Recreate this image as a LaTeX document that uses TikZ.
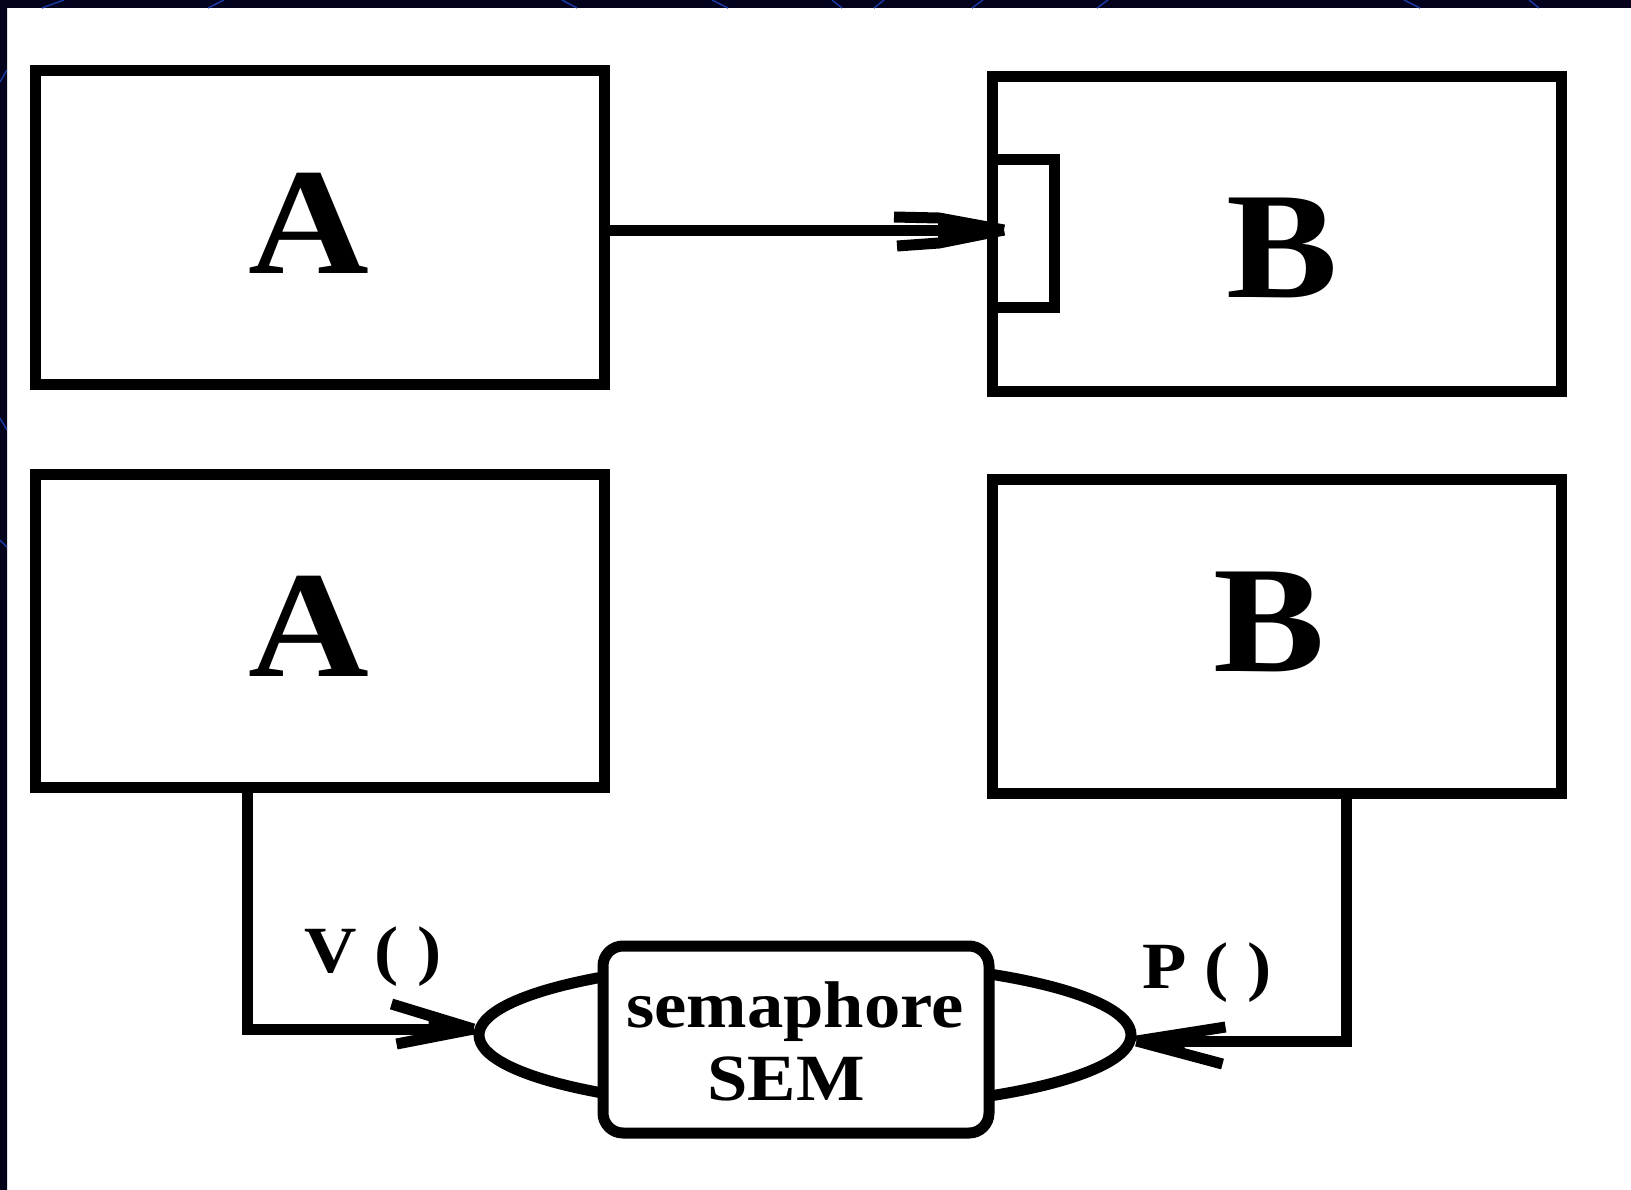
\documentclass[tikz,border=0pt]{standalone}
\usepackage{fontspec}
\setmainfont{Liberation Serif}
\newfontfamily\lblfont{Liberation Serif}[FakeStretch=1.1]
\usetikzlibrary{shapes.geometric}
\definecolor{navytop}{RGB}{3,3,30}
\definecolor{navymid}{RGB}{0,14,100}
\definecolor{navybot}{RGB}{2,2,24}
\definecolor{bandline}{RGB}{25,60,170}
\begin{document}
\begin{tikzpicture}[x=0.5pt,y=-0.5pt,line join=miter]
\tikzset{
  box/.style={draw, line width=5.5pt, minimum width=284.5pt, minimum height=157pt, inner sep=0pt},
  big/.style={font=\fontsize{76}{76}\selectfont\lblfont\bfseries, anchor=base, inner sep=0pt},
  small/.style={font=\fontsize{33}{33}\selectfont\lblfont\bfseries, anchor=base, inner sep=0pt},
  conn/.style={line width=5.5pt},
  bandstroke/.style={draw=bandline, line width=0.7pt},
}
\useasboundingbox (0,0) rectangle (1631,1189);
\fill[white] (0,0) rectangle (1631,1189);
% frame bands
\fill[navytop] (0,0) rectangle (1631,8);
\shade[top color=navytop, middle color=navymid, bottom color=navybot] (0,0) rectangle (7,1189);
\begin{scope}
\clip (0,0) rectangle (1631,8);
\draw[bandstroke] (42,8) -- (64,0);
\draw[bandstroke] (208,8) -- (224,0);
\draw[bandstroke] (562,0) -- (577,8);
\draw[bandstroke] (712,0) -- (728,8);
\draw[bandstroke] (832,0) -- (842,8);
\draw[bandstroke] (874,8) -- (884,0);
\draw[bandstroke] (972,8) -- (983,0);
\draw[bandstroke] (1097,8) -- (1108,0);
\draw[bandstroke] (1404,0) -- (1420,8);
\draw[bandstroke] (1529,0) -- (1539,8);
\end{scope}
\begin{scope}
\clip (0,0) rectangle (7,1189);
\draw[bandstroke] (0,82) -- (7,70);
\draw[bandstroke] (0,418) -- (7,430);
\draw[bandstroke] (0,540) -- (7,547);
\end{scope}
% boxes
\node[box] (A1) at (319.5,227) {};
\node[box, minimum height=157.5pt] (B1) at (1276.5,233.5) {};
\node[box, minimum height=156.5pt] (A2) at (319.5,630.5) {};
\node[box] (B2) at (1276.5,636) {};
% big letters
\node[big] (tA1) at (309,273) {A};
\node[big] (tB1) at (1282,297) {B};
\node[big] (tA2) at (309,676) {A};
\node[big] (tB2) at (1269,671) {B};
% port in B1
\draw[conn] (992,159) -| (1054,307) -- (992,307);
% semaphore
\node[draw, line width=5.5pt, ellipse, minimum width=326pt, minimum height=74pt, inner sep=0pt] (semell) at (805,1035) {};
\node[draw, line width=5.5pt, fill=white, rounded corners=10pt, minimum width=193pt, minimum height=93.5pt, inner sep=0pt] (sem) at (796,1039.5) {};
\node[small] (tsem1) at (795,1027) {semaphore};
\node[small] (tsem2) at (786,1100) {SEM};
% labels
\node[small] (tV) at (373,972) {V ( )};
\node[small] (tP) at (1207,988) {P ( )};
% top arrow
\coordinate (t1) at (1004,230);
\draw[conn] (A1.east |- t1) -- (t1);
\fill (t1) -- ++(-66,-12) -- ++(0,24) -- cycle;
\draw[conn] (t1) -- ++(-65,-12) -- ++(-45,-1);
\draw[conn] (t1) -- ++(-65,13) -- ++(-42,3);
% left connector (V)
\coordinate (tl) at ([yshift=3pt]semell.west);
\draw[conn] ([xshift=109pt]A2.south west) |- (tl);
\fill (tl) -- ++(-45,-15) -- ++(0,22) -- cycle;
\draw[conn] (tl) -- ++(-82,-25);
\draw[conn] (tl) -- ++(-77,15);
% right connector (P)
\coordinate (tr) at ([yshift=-3pt]semell.east);
\draw[conn] ([xshift=180pt]B2.south west) |- (tr);
\fill (tr) -- ++(48,-10) -- ++(0,22) -- cycle;
\draw[conn] (tr) -- ++(89,-14);
\draw[conn] (tr) -- ++(86,23);
\end{tikzpicture}
\end{document}
